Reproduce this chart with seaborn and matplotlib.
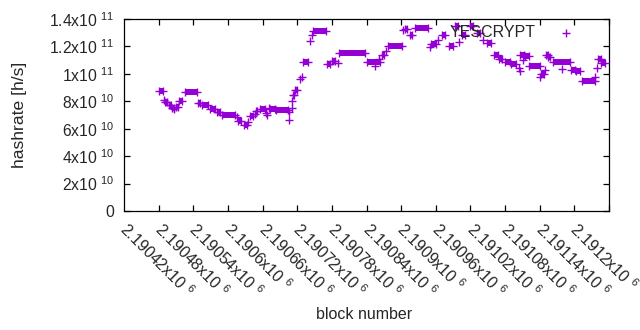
import numpy as np
import matplotlib
matplotlib.use("Agg")
import matplotlib.pyplot as plt
import matplotlib.transforms as mtransforms
import seaborn as sns

# ---- data (block number, hashrate in h/s) ----
# flat runs where the estimate stays constant over consecutive blocks
run_start = [2190421, 2190431, 2190438, 2190443, 2190450, 2190456, 2190466, 2190489,
             2190495, 2190509, 2190521, 2190530, 2190558, 2190568, 2190578, 2190589,
             2190596, 2190613, 2190623, 2190652, 2190656, 2190670, 2190688, 2190712,
             2190720, 2190732, 2190781, 2190806, 2190817, 2190846, 2190855, 2190864,
             2190892, 2190910, 2190923, 2190933, 2190945, 2190959, 2190971, 2190989,
             2191001, 2191010, 2191020, 2191030, 2191046, 2191055, 2191062, 2191082,
             2191091, 2191094, 2191103, 2191134, 2191143, 2191153, 2191181, 2191187]
run_end = [2190427, 2190434, 2190441, 2190446, 2190453, 2190461, 2190486, 2190492,
           2190505, 2190518, 2190526, 2190552, 2190562, 2190573, 2190583, 2190591,
           2190604, 2190622, 2190644, 2190654, 2190659, 2190679, 2190710, 2190717,
           2190725, 2190777, 2190803, 2190811, 2190841, 2190850, 2190859, 2190887,
           2190900, 2190916, 2190929, 2190938, 2190951, 2190965, 2190977, 2190995,
           2191007, 2191015, 2191029, 2191039, 2191052, 2191061, 2191081, 2191087,
           2191094, 2191098, 2191133, 2191141, 2191150, 2191176, 2191187, 2191193]
run_value = [8.75e10, 7.95e10, 7.7e10, 7.5e10, 7.55e10, 8.0e10, 8.7e10, 7.9e10,
             7.7e10, 7.45e10, 7.2e10, 7.0e10, 6.55e10, 6.3e10, 6.9e10, 7.3e10,
             7.45e10, 7.45e10, 7.4e10, 8.45e10, 8.8e10, 10.9e10, 13.15e10, 10.7e10,
             10.95e10, 11.55e10, 10.85e10, 11.35e10, 12.0e10, 13.3e10, 12.85e10, 13.35e10,
             12.15e10, 12.8e10, 12.05e10, 13.5e10, 12.8e10, 13.5e10, 12.95e10, 12.25e10,
             11.4e10, 11.1e10, 10.9e10, 10.75e10, 11.4e10, 11.3e10, 10.55e10, 10.0e10,
             11.4e10, 11.2e10, 10.85e10, 10.3e10, 10.2e10, 9.45e10, 11.05e10, 10.8e10]

# isolated samples
point_block = [2190429, 2190447, 2190556, 2190574, 2190587, 2190606, 2190608, 2190611,
               2190646, 2190646, 2190651, 2190651, 2190665, 2190668, 2190682, 2190686,
               2190731, 2190795, 2190802, 2190814, 2190843, 2190890, 2190904, 2190940,
               2190982, 2191044, 2191046, 2191051, 2191081, 2191089, 2191119, 2191176,
               2191179]
point_value = [8.1e10, 7.45e10, 6.85e10, 6.5e10, 7.1e10, 7.15e10, 7.0e10, 7.5e10,
               6.6e10, 7.2e10, 7.5e10, 8.0e10, 9.6e10, 9.8e10, 12.4e10, 12.8e10,
               10.8e10, 10.6e10, 11.05e10, 11.7e10, 13.2e10, 11.95e10, 12.45e10, 12.3e10,
               12.5e10, 10.4e10, 10.2e10, 11.0e10, 9.8e10, 10.3e10, 10.35e10, 9.8e10,
               10.4e10]

x_ticks = [2190420 + 60 * i for i in range(14)]
x_ticklabels = ["2.19042x10 $^{6}$", "2.19048x10 $^{6}$", "2.19054x10 $^{6}$", "2.1906x10 $^{6}$",
                "2.19066x10 $^{6}$", "2.19072x10 $^{6}$", "2.19078x10 $^{6}$", "2.19084x10 $^{6}$",
                "2.1909x10 $^{6}$", "2.19096x10 $^{6}$", "2.19102x10 $^{6}$", "2.19108x10 $^{6}$",
                "2.19114x10 $^{6}$", "2.1912x10 $^{6}$"]
y_ticks = [0, 2e10, 4e10, 6e10, 8e10, 1e11, 1.2e11, 1.4e11]
y_ticklabels = ["0", "2x10 $^{10}$", "4x10 $^{10}$", "6x10 $^{10}$", "8x10 $^{10}$",
                "1x10 $^{11}$", "1.2x10 $^{11}$", "1.4x10 $^{11}$"]

COLOR = "#9400d3"

sns.set_style("ticks")
plt.rcParams.update({
    "font.family": ["Liberation Sans", "DejaVu Sans"],
    "mathtext.fontset": "custom",
    "mathtext.rm": "Liberation Sans",
    "mathtext.it": "Liberation Sans",
    "font.size": 11,
    "axes.edgecolor": "black",
    "axes.linewidth": 0.9,
    "xtick.direction": "in",
    "ytick.direction": "in",
})

fig = plt.figure(figsize=(6.4, 3.3), dpi=100)
ax = fig.add_axes([124 / 640, 1 - 211 / 330, 485 / 640, 192 / 330])

# runs of identical values: dense '+' markers merge into a solid bar
ax.hlines(run_value, run_start, run_end, colors=COLOR, linewidth=4.3, zorder=2)
sns.scatterplot(x=run_start + run_end, y=run_value + run_value, marker="+",
                color=COLOR, s=28, linewidth=1.0, ax=ax, zorder=3)
sns.scatterplot(x=point_block, y=point_value, marker="+", color=COLOR,
                s=28, linewidth=1.0, ax=ax, zorder=3, label="YESCRYPT")

ax.set_xlim(2190360, 2191200)
ax.set_ylim(0, 1.4e11)
ax.set_xticks(x_ticks)
ax.set_xticklabels(x_ticklabels, rotation=-45, ha="left", va="top",
                   rotation_mode="anchor", fontsize=11.5)
ax.set_yticks(y_ticks)
ax.set_yticklabels(y_ticklabels, fontsize=11.3)
ax.tick_params(axis="both", length=4.5, width=0.9, top=True, right=True, color="black")
ax.tick_params(axis="x", pad=4)
ax.tick_params(axis="y", pad=6.8)
# gnuplot draws the rotated labels starting left of their tick
shift = mtransforms.ScaledTranslation(-29 / 100, -3 / 100, fig.dpi_scale_trans)
for lab in ax.get_xticklabels():
    lab.set_transform(lab.get_transform() + shift)

ax.set_xlabel("block number", fontsize=11.5, va="top")
ax.xaxis.set_label_coords(0.495, -0.5)
ax.set_ylabel("hashrate [h/s]", fontsize=12.6)
ax.yaxis.set_label_coords(-0.2, 0.5)
for s in ax.spines.values():
    s.set_visible(True)

leg = ax.legend(loc="upper right", bbox_to_anchor=(0.957, 1.0), borderaxespad=0,
                frameon=False, markerfirst=False, handletextpad=0.9, fontsize=11.5)
leg.set_zorder(5)

fig.savefig("out.png", dpi=100)
